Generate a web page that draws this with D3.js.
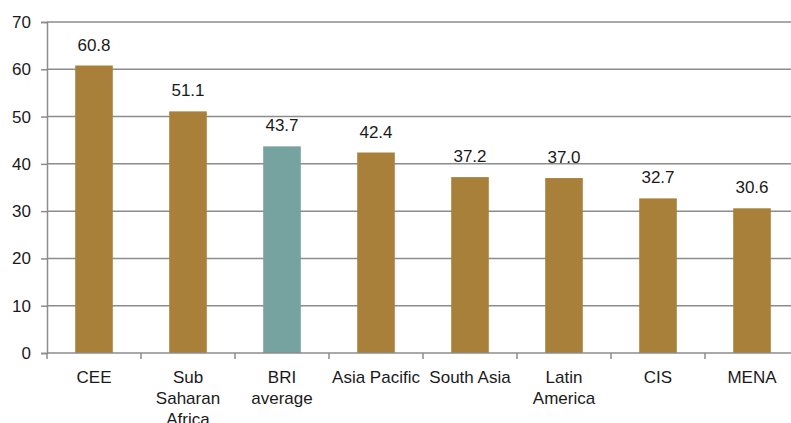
<!DOCTYPE html>
<html><head><meta charset="utf-8">
<script src="https://cdn.jsdelivr.net/npm/d3@7"></script>
<style>body{margin:0;background:#fff}svg{display:block}text{font-family:"Liberation Sans",Arial,sans-serif;fill:#1a1a1a}</style>
</head><body>
<svg id="c" width="791" height="423"></svg>
<script>
const categories = [["CEE"],["Sub","Saharan","Africa"],["BRI","average"],["Asia Pacific"],["South Asia"],["Latin","America"],["CIS"],["MENA"]];
const values = [60.8, 51.1, 43.7, 42.4, 37.2, 37.0, 32.7, 30.6];
const highlight = [false, false, true, false, false, false, false, false];
const yTicks = [0,10,20,30,40,50,60,70];

(function(){
const svg = d3.select("#c");
const pLeft = 47, bandW = 94, pTop = 22, pBottom = 353;
const fs = "17px";
const x = d3.scaleBand().domain(d3.range(values.length)).range([pLeft, pLeft + bandW*values.length]).paddingInner(0.6).paddingOuter(0.3);
const y = d3.scaleLinear().domain([0,70]).range([pBottom, pTop]);
const gold = "#A98039", teal = "#76A29F", grid = "#8c8c8c";

svg.append("g").selectAll("line").data(yTicks.filter(d=>d>0)).join("line")
  .attr("x1", pLeft).attr("x2", 791).attr("y1", d=>y(d)).attr("y2", d=>y(d))
  .attr("stroke", grid).attr("stroke-width", 1.5);

const ya = svg.append("g").attr("transform", `translate(${pLeft},0)`)
  .call(d3.axisLeft(y).tickValues(yTicks).tickSize(6).tickPadding(10));
ya.select(".domain").attr("stroke", grid).attr("stroke-width", 1.5);
ya.selectAll(".tick line").attr("stroke", grid).attr("stroke-width", 1.5);
ya.selectAll("text").style("font-size", fs).attr("fill", "#1a1a1a").style("font-family", "'Liberation Sans', Arial, sans-serif");

svg.append("g").selectAll("rect").data(values).join("rect")
  .attr("x", (d,i)=>x(i)).attr("width", x.bandwidth())
  .attr("y", d=>y(d)).attr("height", d=>y(0)-y(d))
  .attr("fill", (d,i)=>highlight[i]?teal:gold);

svg.append("g").selectAll("text").data(values).join("text")
  .attr("x", (d,i)=>x(i)+x.bandwidth()/2).attr("y", d=>y(d)-15)
  .attr("text-anchor", "middle").style("font-size", fs)
  .text(d=>d.toFixed(1));

const xb = d3.scaleLinear().domain([0, values.length]).range([pLeft, pLeft + bandW*values.length]);
svg.append("line").attr("x1", pLeft).attr("x2", 791).attr("y1", y(0)).attr("y2", y(0))
  .attr("stroke", grid).attr("stroke-width", 1.5);
svg.append("g").selectAll("line").data(d3.range(values.length+1)).join("line")
  .attr("x1", d=>xb(d)).attr("x2", d=>xb(d)).attr("y1", y(0)).attr("y2", y(0)+6)
  .attr("stroke", grid).attr("stroke-width", 1.5);

const cl = svg.append("g").selectAll("text").data(categories).join("text")
  .attr("text-anchor", "middle").style("font-size", fs)
  .attr("x", (d,i)=>x(i)+x.bandwidth()/2).attr("y", 383);
cl.selectAll("tspan").data(d=>d).join("tspan")
  .attr("x", function(){return this.parentNode.getAttribute("x");})
  .attr("dy", (d,i)=>i===0?0:21).text(d=>d);
})();
</script>
</body></html>
